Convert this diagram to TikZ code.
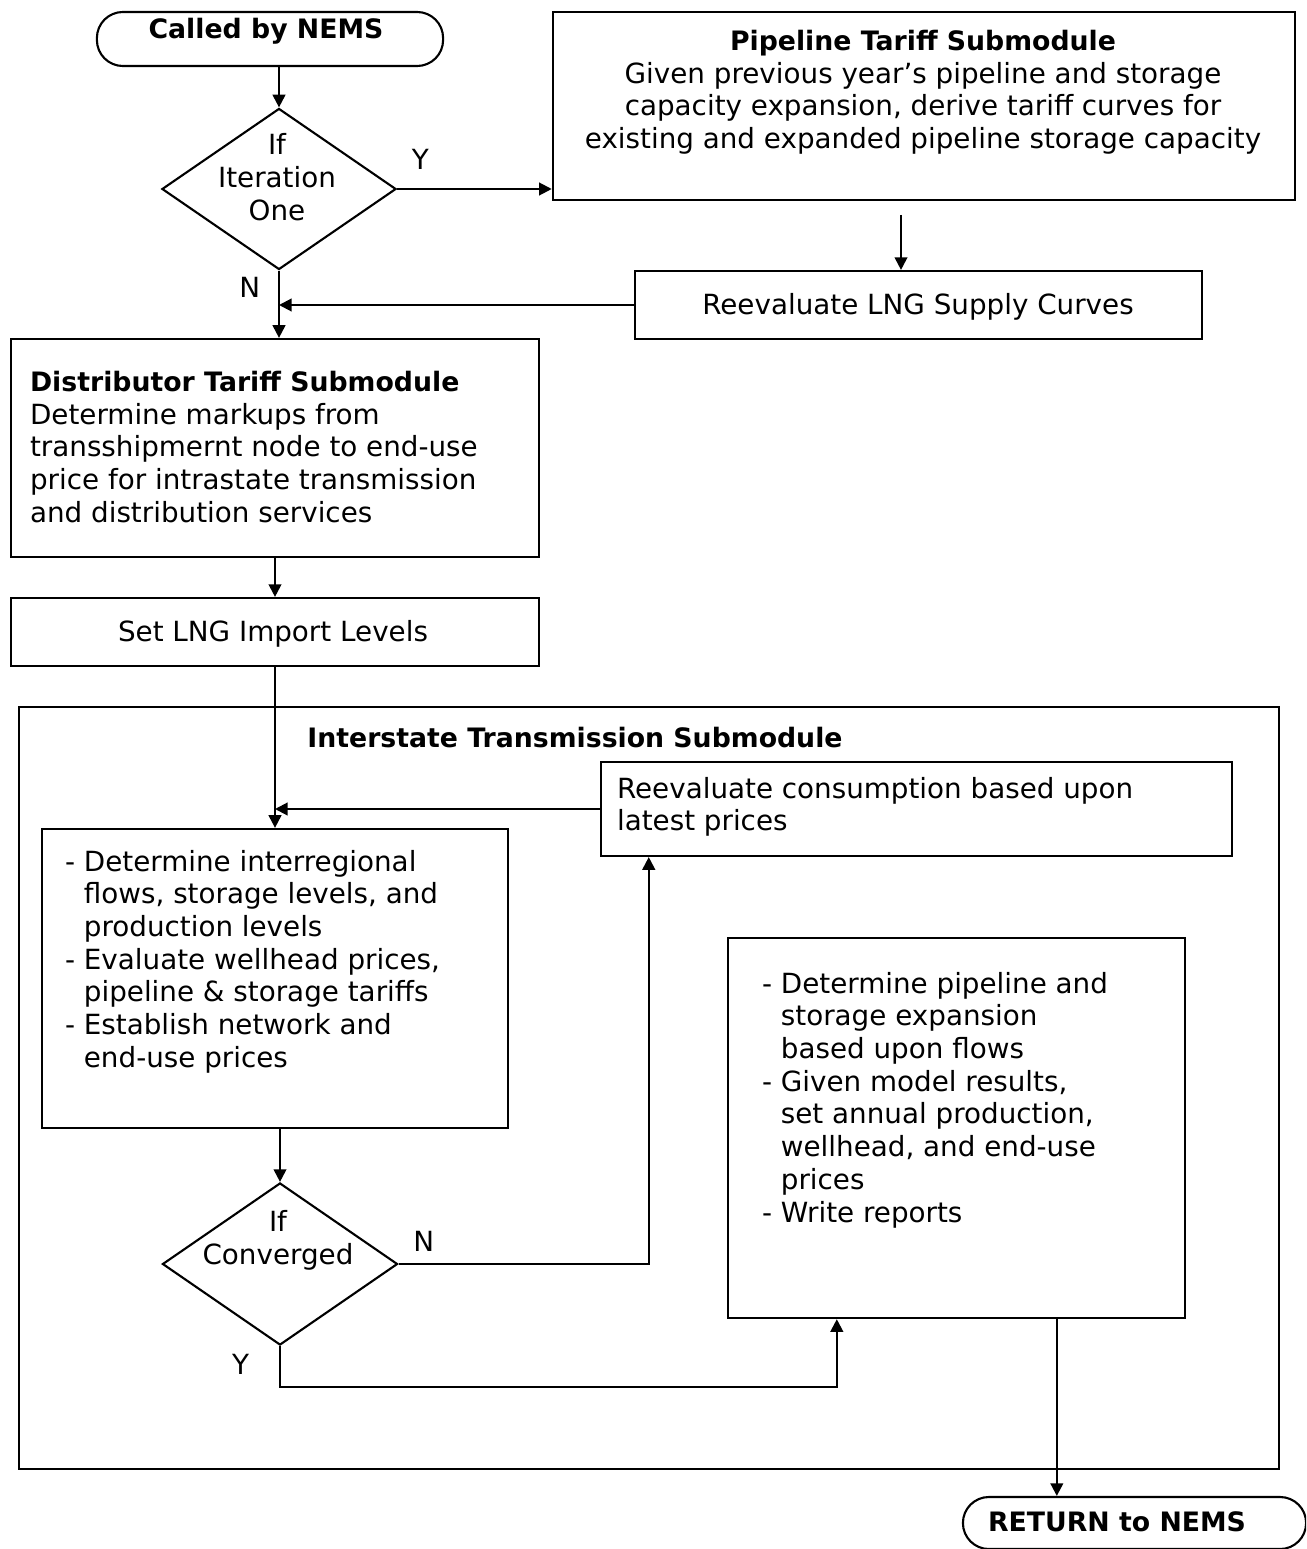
\documentclass[tikz,border=0pt]{standalone}
\usepackage{fontspec}
\setmainfont{DejaVu Sans}
\usetikzlibrary{shapes.geometric,positioning,calc,arrows.meta}

\begin{document}
\begin{tikzpicture}[x=0.01cm, y=-0.01cm, line width=0.6pt, font=\fontsize{7.9}{9.3}\selectfont,
>={Triangle[length=3.6pt, width=3.6pt]},
block/.style={rectangle, draw, inner sep=0pt},
term/.style={rectangle, draw, rounded corners=2.6mm, inner sep=0pt},
decision/.style={diamond, draw, inner sep=0pt},
txt/.style={inner sep=0pt, align=left},
ctxt/.style={inner sep=0pt, align=center},
head/.style={font=\bfseries\fontsize{7.6}{9.3}\selectfont},]
 \path[use as bounding box, clip] (0,0) rectangle (1306,1549);

 % outer frame of the interstate submodule
 \node[block, minimum width=126mm, minimum height=76.2mm] (interstate) at (649,1088) {};
 \node[ctxt, head] (interstatetxt) at (575,738) {Interstate Transmission Submodule};

 \node[term, minimum width=34.6mm, minimum height=5.4mm] (start) at (270,39) {};
 \node[ctxt, head] (starttxt) at (266,31) {Called by NEMS};
 \node[decision, minimum width=23.4mm, minimum height=16.1mm] (iterone) at (279,189) {};
 \node[ctxt] (iteronetxt) at (277,177) {If\\Iteration\\One};
 \node[block, minimum width=74.2mm, minimum height=18.8mm] (pipetariff) at (924,106) {};
 \node[ctxt, anchor=north] (pipetarifftxt) at (923,29) {{\bfseries\fontsize{7.6}{9.3}\selectfont Pipeline Tariff Submodule}\\
   Given previous year's pipeline and storage\\
   capacity expansion, derive tariff curves for\\
   existing and expanded pipeline storage capacity};
 \node[block, minimum width=56.7mm, minimum height=6.8mm] (lngsupply) at (918.5,305) {};
 \node[ctxt] (lngsupplytxt) at (918,307) {Reevaluate LNG Supply Curves};
 \node[block, minimum width=52.8mm, minimum height=21.8mm] (disttariff) at (275,448) {};
 \node[txt, anchor=north west] (disttarifftxt) at (29,370) {{\bfseries\fontsize{7.6}{9.3}\selectfont Distributor Tariff Submodule}\\
   Determine markups from\\
   transshipmernt node to end-use\\
   price for intrastate transmission\\
   and distribution services};
 \node[block, minimum width=52.8mm, minimum height=6.8mm] (lngimport) at (275,632) {};
 \node[ctxt] (lngimporttxt) at (273,634) {Set LNG Import Levels};

 \node[block, minimum width=63.1mm, minimum height=9.4mm] (reeval) at (916.5,809) {};
 \node[txt, anchor=north west] (reevaltxt) at (616,776) {Reevaluate consumption based upon\\latest prices};
 \node[block, minimum width=46.6mm, minimum height=29.9mm] (flows) at (275,978.5) {};
 \node[txt, anchor=north west] (flowstxt) at (64,849) {- Determine interregional\\
   \phantom{- }flows, storage levels, and\\
   \phantom{- }production levels\\
   - Evaluate wellhead prices,\\
   \phantom{- }pipeline \& storage tariffs\\
   - Establish network and\\
   \phantom{- }end-use prices};
 \node[decision, minimum width=23.5mm, minimum height=16.2mm] (converged) at (280,1264) {};
 \node[ctxt] (convergedtxt) at (278,1240) {If\\Converged};
 \node[block, minimum width=45.7mm, minimum height=38mm] (expansion) at (956.5,1128) {};
 \node[txt, anchor=north west] (expansiontxt) at (761,971) {- Determine pipeline and\\
   \phantom{- }storage expansion\\
   \phantom{- }based upon flows\\
   - Given model results,\\
   \phantom{- }set annual production,\\
   \phantom{- }wellhead, and end-use\\
   \phantom{- }prices\\
   - Write reports};
 \node[term, minimum width=34.3mm, minimum height=5.2mm] (finish) at (1134.5,1523) {};
 \node[ctxt, head] (finishtxt) at (1117,1522) {RETURN to NEMS};

 \coordinate (pipeout) at (901,215);
 \coordinate (reevalin) at ($(reeval.south west)+(49,0)$);
 \coordinate (expin) at ($(expansion.south west)+(110,0)$);
 \coordinate (expout) at ($(expansion.south west)+(330,0)$);

 \draw[->] (start.south -| iterone.north) -- (iterone.north);
 \draw[->] (iterone.east) -- node[pos=0.15, above=0.7mm] {Y} (iterone.east -| pipetariff.west);
 \draw[->] (pipeout) -- (pipeout |- lngsupply.north);
 \draw[->] (lngsupply.west) -- (lngsupply.west -| iterone.south);
 \draw[->] (iterone.south) -- node[pos=0.25, left=0.6mm] {N} (iterone.south |- disttariff.north);
 \draw[->] (disttariff) -- (lngimport);
 \draw[->] (lngimport) -- (flows);
 \draw[->] (reeval.west) -- (reeval.west -| flows.north);
 \draw[->] (converged.north |- flows.south) -- (converged.north);
 \draw[->] (converged.east) -| node[pos=0.05, above] {N} (reevalin);
 \draw[->] (converged.south) -- node[pos=0.45, left=1.8mm] {Y} ++(0,41) -| (expin);
 \draw[->] (expout) -- (expout |- finish.north);

 \end{tikzpicture}
\end{document}
